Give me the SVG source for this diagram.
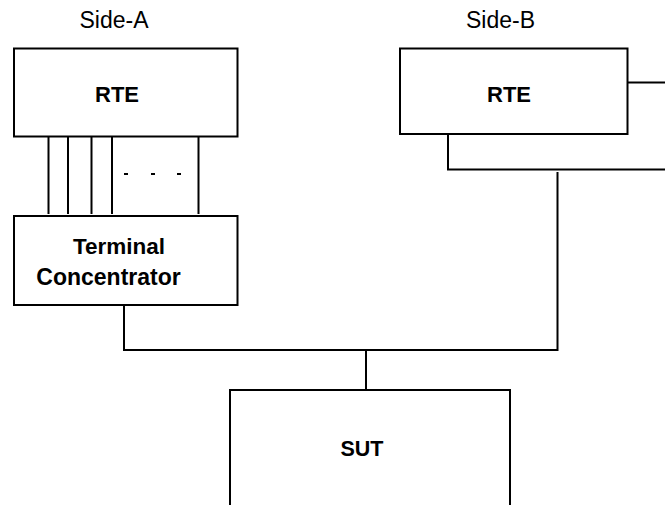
<svg xmlns="http://www.w3.org/2000/svg" width="665" height="505" viewBox="0 0 665 505">
<style>
.box{fill:#fff;stroke:#000;stroke-width:2}
.ln{fill:none;stroke:#000;stroke-width:2}
.lbl{font-family:"Liberation Sans",Arial,sans-serif;font-size:23px;fill:#000;text-anchor:middle}
.b{font-weight:bold;font-size:22px}
</style>
<rect width="665" height="505" fill="#fff"/>
<text class="lbl" x="114" y="27.5">Side-A</text>
<text class="lbl" x="500.5" y="27.5">Side-B</text>
<g id="connectors">
<path class="ln" d="M48.5 137V214M68 137V214M91.5 137V214M112 137V214M198.5 137V214"/>
<path class="ln" d="M124 174h4M151 174h4M177 174h4"/>
<path class="ln" d="M124 305V350H557.5V172M366 350V390"/>
<path class="ln" d="M448 134V169.5H665M627.5 82.5H665"/>
</g>
<g id="rte-a">
<rect class="box" x="14" y="48.5" width="223.5" height="88"/>
<text class="lbl b" x="117" y="101.5">RTE</text>
</g>
<g id="terminal-concentrator">
<rect class="box" x="14" y="216" width="223.5" height="89"/>
<text class="lbl b" x="119" y="253.5" style="font-size:22.5px">Terminal</text>
<text class="lbl b" x="108.5" y="285" style="font-size:23px">Concentrator</text>
</g>
<g id="rte-b">
<rect class="box" x="400" y="48.5" width="227.5" height="85.5"/>
<text class="lbl b" x="509" y="101.5">RTE</text>
</g>
<g id="sut">
<path class="box" d="M230 505V390H510V505"/>
<text class="lbl b" x="362" y="456" style="font-size:21.5px">SUT</text>
</g>
</svg>
